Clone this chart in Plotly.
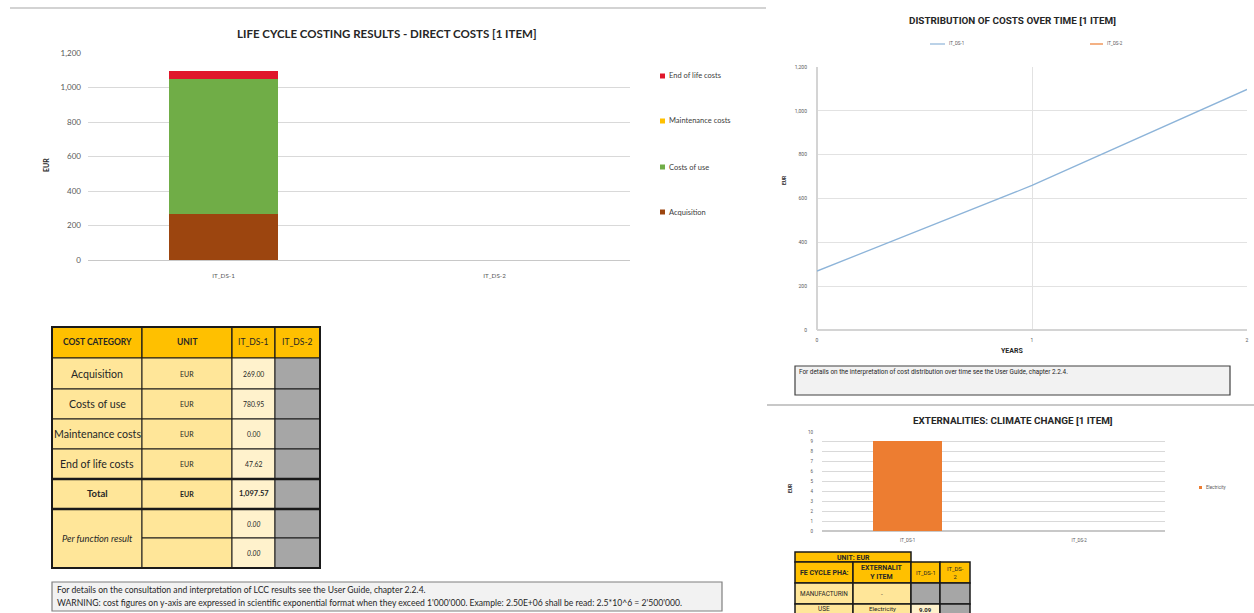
import plotly.graph_objects as go

W, H = 1254, 613


def px(x):
    return x / W


def py(y):
    return 1 - y / H


# ---- direct costs (stacked bars + summary table) ----
systems = ["IT_DS-1", "IT_DS-2"]
cost_categories = ["Acquisition", "Costs of use", "Maintenance costs", "End of life costs"]
cost_colors = ["#9C450F", "#70AD47", "#FFC000", "#E0162B"]
costs_ds1 = [269.00, 780.95, 0.00, 47.62]
costs_ds2 = [None, None, None, None]
per_function_ds1 = [0.00, 0.00]

# ---- cumulative cost over time ----
years = [0, 1, 2]
cumulative_ds1 = [269.00, 659.50, 1097.57]
line_names = ["IT_DS-1", "IT_DS-2"]
line_colors = ["#8DB4D9", "#ED7D31"]

# ---- externalities ----
ext_items = ["Electricity"]
ext_ds1 = [9.09]
ext_color = "#ED7D31"

CAL = "Lato, 'Open Sans', sans-serif"
TAH = "Roboto, 'DejaVu Sans', sans-serif"
DARK = "#262626"
GRID = "#d9d9d9"
LEG = "#404040"

fig = go.Figure()

# stacked bars
for name, color, v1, v2 in zip(cost_categories, cost_colors, costs_ds1, costs_ds2):
    fig.add_trace(go.Bar(x=systems, y=[v1, v2], name=name, marker_color=color,
                         marker_line_width=0, xaxis="x", yaxis="y"))

# cumulative line
fig.add_trace(go.Scatter(x=years, y=cumulative_ds1, mode="lines", name=line_names[0],
                         line=dict(color=line_colors[0], width=1.3),
                         xaxis="x2", yaxis="y2"))

# externality bar
for item, v in zip(ext_items, ext_ds1):
    fig.add_trace(go.Bar(x=systems, y=[v, None], name=item, marker_color=ext_color,
                         marker_line_width=0, xaxis="x3", yaxis="y3"))

shapes = []
ann = []


def text(x, y, s, size, bold=False, italic=False, color=DARK, family=CAL,
         xanchor="center", angle=0):
    if bold:
        s = f"<b>{s}</b>"
    if italic:
        s = f"<i>{s}</i>"
    ann.append(dict(x=px(x), y=py(y), xref="paper", yref="paper", text=s,
                    showarrow=False, xanchor=xanchor, yanchor="middle",
                    textangle=angle, font=dict(size=size, color=color, family=family)))


def rect(x0, y0, x1, y1, fill, lw=1.0, lc="#1a1a1a"):
    shapes.append(dict(type="rect", xref="paper", yref="paper", x0=px(x0), x1=px(x1),
                       y0=py(y1), y1=py(y0), fillcolor=fill,
                       line=dict(color=lc, width=lw), layer="above"))


def hline(x0, x1, y, lw, color):
    shapes.append(dict(type="line", xref="paper", yref="paper", x0=px(x0), x1=px(x1),
                       y0=py(y), y1=py(y), line=dict(color=color, width=lw), layer="above"))


# separators
hline(10, 766, 8, 1.5, "#c4c4c4")
hline(767, 1254, 405, 2, "#c8c8c8")

# titles and axis captions
text(387, 33, "LIFE CYCLE COSTING RESULTS - DIRECT COSTS [1 ITEM]", 11.5, bold=True)
text(46, 165, "EUR", 7, bold=True, angle=-90)
text(1012, 20, "DISTRIBUTION OF COSTS OVER TIME [1 ITEM]", 9.9, bold=True, family=TAH)
text(784, 180, "EUR", 5, bold=True, angle=-90, family=TAH)
text(1012, 351, "YEARS", 7, bold=True, family=TAH)
text(1013, 420, "EXTERNALITIES: CLIMATE CHANGE [1 ITEM]", 9.9, bold=True, family=TAH)
text(790, 488, "EUR", 5, bold=True, angle=-90, family=TAH)

# legends
legend_rows = [76, 121, 167, 212]
for yy, name, color in zip(legend_rows, reversed(cost_categories), reversed(cost_colors)):
    rect(660, yy - 2.5, 665, yy + 2.5, color, 0, color)
    text(667, yy, name, 7.5, color=LEG, xanchor="left")

for (x0, x1), name, color in zip([(930, 945), (1090, 1103)], line_names, line_colors):
    hline(x0, x1, 44, 1.2, color)
    text(x1 + 2, 44, name, 4.5, color="#595959", family=TAH, xanchor="left")

rect(1199, 486, 1202, 489, ext_color, 0, ext_color)
text(1203.5, 487.5, ext_items[0], 4.5, color="#595959", family=TAH, xanchor="left")

# note boxes
rect(795, 366, 1230, 395, "#F2F2F2", 1.2, "#404040")
text(797, 372, "For details on the interpretation of cost distribution over time see the User Guide, chapter 2.2.4.",
     6.4, family=TAH, xanchor="left")
rect(52, 582, 722, 611, "#F2F2F2", 1.2, "#7f7f7f")
text(55, 590, "For details on the consultation and interpretation of LCC results see the User Guide, chapter 2.2.4.",
     8.6, xanchor="left")
text(55, 603, "WARNING: cost figures on y-axis are expressed in scientific exponential format when they exceed 1'000'000. "
     "Example: 2.50E+06 shall be read: 2.5*10^6 = 2'500'000.", 8.6, xanchor="left")

# ---- summary table ----
HDR = "#FFC000"
LIGHT = "#FFE699"
PALE = "#FFF2CC"
GREY = "#A6A6A6"
cols = [52, 142, 232, 275, 320]
rows = [327, 358, 389, 419, 449, 479, 509, 538, 568]


def cx(i):
    return (cols[i] + cols[i + 1]) / 2


def cy(j):
    return (rows[j] + rows[j + 1]) / 2


headers = ["COST CATEGORY", "UNIT"] + systems
for i, h in enumerate(headers):
    rect(cols[i], rows[0], cols[i + 1], rows[1], HDR, 1.2)
    text(cx(i), cy(0), h, 8.5 if i < 2 else 8.5, bold=(i < 2))

body_labels = cost_categories + ["Total"]
body_values = costs_ds1 + [sum(costs_ds1)]
for j, (lab, val) in enumerate(zip(body_labels, body_values), start=1):
    total = lab == "Total"
    rect(cols[0], rows[j], cols[1], rows[j + 1], LIGHT)
    rect(cols[1], rows[j], cols[2], rows[j + 1], LIGHT)
    rect(cols[2], rows[j], cols[3], rows[j + 1], PALE)
    rect(cols[3], rows[j], cols[4], rows[j + 1], GREY)
    text(cx(0), cy(j), lab, 10.6 if not total else 9.5, bold=total)
    text(cx(1), cy(j), "EUR", 7, bold=total)
    text(cx(2), cy(j), f"{val:,.2f}", 6.8 if not total else 7.5, bold=total)

rect(cols[0], rows[6], cols[1], rows[8], LIGHT)
text(cx(0), (rows[6] + rows[8]) / 2, "Per function result", 9.3, italic=True)
for k, v in enumerate(per_function_ds1):
    j = 6 + k
    rect(cols[1], rows[j], cols[2], rows[j + 1], LIGHT)
    rect(cols[2], rows[j], cols[3], rows[j + 1], PALE)
    rect(cols[3], rows[j], cols[4], rows[j + 1], GREY)
    text(cx(2), cy(j), f"{v:.2f}", 6.8, italic=True)

hline(cols[0], cols[4], rows[5], 2.5, "#1a1a1a")
hline(cols[0], cols[4], rows[6], 2.5, "#1a1a1a")
rect(cols[0], rows[0], cols[4], rows[8], "rgba(0,0,0,0)", 2, "#1a1a1a")

# ---- externalities table ----
ecols = [795, 853, 911, 940, 970]
erows = [552, 562, 583, 604, 625]
rect(ecols[0], erows[0], ecols[2], erows[1], HDR, 1.5)
text((ecols[0] + ecols[2]) / 2, (erows[0] + erows[1]) / 2 + 0.5, "UNIT: EUR", 7, bold=True, family=TAH)
ext_headers = ["FE CYCLE PHA:", "EXTERNALIT<br>Y ITEM", "IT_DS-1", "IT_DS-<br>2"]
for i, h in enumerate(ext_headers):
    rect(ecols[i], erows[1], ecols[i + 1], erows[2], HDR, 1.5)
    text((ecols[i] + ecols[i + 1]) / 2, (erows[1] + erows[2]) / 2, h,
         7 if i < 2 else 5.8, bold=(i < 2), family=TAH)
ext_rows = [("MANUFACTURIN", "-", None), ("USE", ext_items[0], ext_ds1[0])]
ext_text_y = [593.5, 609]
for k, (phase, item, val) in enumerate(ext_rows):
    y0, y1 = erows[2 + k], erows[3 + k]
    ymid = ext_text_y[k]
    rect(ecols[0], y0, ecols[1], y1, LIGHT, 1.5)
    rect(ecols[1], y0, ecols[2], y1, LIGHT, 1.5)
    rect(ecols[2], y0, ecols[3], y1, GREY if val is None else PALE, 1.5)
    rect(ecols[3], y0, ecols[4], y1, GREY, 1.5)
    text((ecols[0] + ecols[1]) / 2, ymid, phase, 6.4, family=TAH)
    text((ecols[1] + ecols[2]) / 2, ymid, item, 6.2, family=TAH)
    if val is not None:
        text((ecols[2] + ecols[3]) / 2, ymid, f"{val:.2f}", 6, bold=True, family=TAH)

tick_grey = "#595959"
fig.update_layout(
    width=W, height=H, margin=dict(l=0, r=0, t=0, b=0, autoexpand=False),
    paper_bgcolor="white", plot_bgcolor="white",
    barmode="stack", bargap=0.6, showlegend=False,
    font=dict(family=CAL, color=tick_grey),
    shapes=shapes, annotations=ann,
    xaxis=dict(domain=[px(88), px(630)], anchor="y", type="category",
               categoryorder="array", categoryarray=systems, range=[-0.5, 1.5],
               showgrid=False, ticks="", ticklabelstandoff=11,
               tickfont=dict(size=6.3, color=tick_grey), showline=False),
    yaxis=dict(domain=[py(260), py(53)], anchor="x", range=[0, 1200], dtick=200,
               tickformat=",d", gridcolor=GRID, gridwidth=1, zeroline=True,
               zerolinecolor="#c8c8c8", zerolinewidth=1, showline=False,
               ticklabelstandoff=6, tickfont=dict(size=8, color=tick_grey), ticks=""),
    xaxis2=dict(domain=[px(817), px(1247)], anchor="y2", range=[0, 2], dtick=1,
                showgrid=True, gridcolor="#e2e2e2", zeroline=True, zerolinecolor="#d4d4d4",
                ticks="", ticklabelstandoff=6, tickfont=dict(size=5, color=tick_grey, family=TAH)),
    yaxis2=dict(domain=[py(330), py(67)], anchor="x2", range=[0, 1200], dtick=200,
                tickformat=",d", gridcolor="#e2e2e2", zeroline=True, zerolinecolor="#d4d4d4",
                ticks="", ticklabelstandoff=9, tickfont=dict(size=5, color=tick_grey, family=TAH)),
    xaxis3=dict(domain=[px(822), px(1165)], anchor="y3", type="category",
                categoryorder="array", categoryarray=systems, range=[-0.5, 1.5],
                showgrid=False, ticks="", ticklabelstandoff=5,
                tickfont=dict(size=4.5, color=tick_grey, family=TAH)),
    yaxis3=dict(domain=[py(531), py(432)], anchor="x3", range=[0, 10], dtick=1,
                gridcolor=GRID, zeroline=True, zerolinecolor="#c8c8c8",
                ticks="", ticklabelstandoff=8, tickfont=dict(size=4.5, color=tick_grey, family=TAH)),
)

fig.write_html("out.html")
